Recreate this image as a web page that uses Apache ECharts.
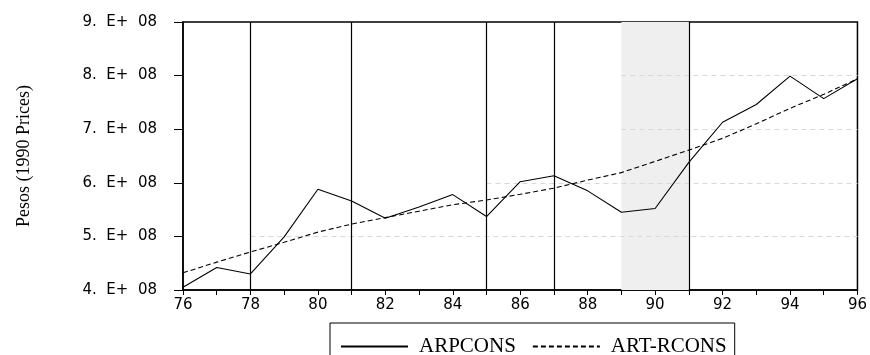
<!DOCTYPE html>
<html><head><meta charset="utf-8">
<script src="https://cdn.jsdelivr.net/npm/echarts@6/dist/echarts.min.js"></script>
<style>html,body{margin:0;padding:0;background:#fff}#c{width:870px;height:355px}</style>
</head><body><div id="c"></div>
<script>
const years = [76,77,78,79,80,81,82,83,84,85,86,87,88,89,90,91,92,93,94,95,96];
const arpcons = [4.05e8,4.42e8,4.30e8,4.99e8,5.88e8,5.66e8,5.34e8,5.55e8,5.78e8,5.37e8,6.02e8,6.13e8,5.85e8,5.45e8,5.52e8,6.38e8,7.13e8,7.46e8,7.99e8,7.57e8,7.94e8];
const artRcons = [4.32e8,4.52e8,4.71e8,4.89e8,5.08e8,5.23e8,5.35e8,5.47e8,5.59e8,5.68e8,5.785e8,5.90e8,6.05e8,6.19e8,6.40e8,6.61e8,6.83e8,7.10e8,7.39e8,7.65e8,7.94e8];
const seriesNames = ['ARPCONS','ART-RCONS'];
const markerYears = [78,81,85,87,91];
const shadedSpan = [89,91];
const yAxisTitle = 'Pesos (1990 Prices)';

const chart = echarts.init(document.getElementById('c'), null, {renderer:'canvas'});
function yLab(v){ const m = Math.round(v/1e8); return m + '.  E+  08'; }
function xLab(v){ return String(v); }

const gridSegs = [[5e8,78,96],[6e8,85,96],[7e8,89,96],[8e8,89,96]];

chart.setOption({
  animation:false,
  backgroundColor:'#fff',
  grid:{left:183, right:10, top:22, bottom:65, show:true, borderColor:'#000', borderWidth:1.5},
  xAxis:{type:'value', min:76, max:96, interval:2,
    axisLine:{show:true, lineStyle:{color:'#000', width:1.5}},
    axisTick:{show:true, length:5, inside:false, lineStyle:{color:'#000', width:1}},
    minorTick:{show:true, splitNumber:2, length:5, lineStyle:{color:'#000', width:1}},
    splitLine:{show:false},
    axisLabel:{formatter:xLab, margin:8, color:'#000', fontFamily:'DejaVu Sans', fontSize:15}
  },
  yAxis:{type:'value', min:4e8, max:9e8, interval:1e8,
    name:yAxisTitle, nameLocation:'middle', nameGap:150, nameRotate:90,
    nameTextStyle:{fontFamily:'Liberation Serif', fontSize:18, color:'#000'},
    axisLine:{show:true, lineStyle:{color:'#000', width:1.5}},
    axisTick:{show:true, length:9, lineStyle:{color:'#000', width:1}},
    splitLine:{show:false},
    axisLabel:{formatter:yLab, margin:26, color:'#000', fontFamily:'DejaVu Sans', fontSize:15}
  },
  legend:{
    data:seriesNames, left:330, top:323, orient:'horizontal',
    borderColor:'#000', borderWidth:1, borderRadius:0, padding:[13,8,12,10],
    itemWidth:67, itemHeight:10, itemGap:16,
    itemStyle:{opacity:0},
    textStyle:{fontFamily:'Liberation Serif', fontSize:21, color:'#000', padding:[0,0,0,6]}
  },
  series:[
    {name:seriesNames[0], type:'line', data:years.map((y,i)=>[y,arpcons[i]]),
     showSymbol:false, symbol:'none', lineStyle:{color:'#000', width:1.1}, itemStyle:{color:'#000'}, z:5,
     markArea:{silent:true, itemStyle:{color:'#efefef'}, data:[[{xAxis:shadedSpan[0]},{xAxis:shadedSpan[1]}]], z:1},
     markLine:{silent:true, symbol:'none', label:{show:false}, z:3,
       data: gridSegs.map(g=>[{coord:[g[1],g[0]], lineStyle:{color:'#d8d8d8', width:1, type:[5,4]}},{coord:[g[2],g[0]]}])
         .concat(markerYears.map(x=>({xAxis:x, lineStyle:{color:'#000', width:1.2, type:'solid'}})))
     }
    },
    {name:seriesNames[1], type:'line', data:years.map((y,i)=>[y,artRcons[i]]),
     showSymbol:false, symbol:'none', lineStyle:{color:'#000', width:1.1, type:[5,3]}, itemStyle:{color:'#000'}, z:6}
  ]
});
</script></body></html>
